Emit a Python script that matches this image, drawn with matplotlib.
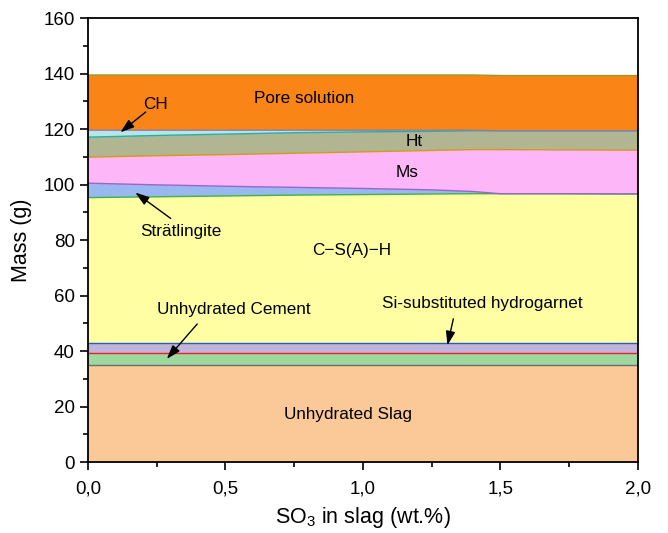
import matplotlib
matplotlib.use("Agg")
import matplotlib.pyplot as plt
import numpy as np
from matplotlib.ticker import MultipleLocator, FuncFormatter

plt.rcParams['font.family'] = ['Liberation Sans', 'DejaVu Sans']
plt.rcParams['mathtext.fontset'] = 'custom'
plt.rcParams['mathtext.rm'] = 'Liberation Sans'

# SO3 content in slag (wt.%)
so3 = [0, 0.25, 0.5, 0.75, 1.0, 1.25, 1.4, 1.5, 1.75, 2.0]

# masses of phases (g) (layer thicknesses)
slag        = [34.8] * 10
cement      = [4.6] * 10
hydrogarnet = [3.5] * 10
csh         = [52.4, 52.7, 53.0, 53.3, 53.5, 53.7, 53.8, 53.8, 53.8, 53.7]
stratlingite= [5.2, 4.3, 3.5, 2.8, 2.2, 1.5, 0.8, 0.0, 0.0, 0.0]
ms          = [9.4, 10.5, 11.4, 12.3, 13.2, 14.2, 15.1, 15.9, 15.8, 15.8]
ht          = [7.2, 7.3, 7.4, 7.4, 7.2, 6.9, 6.8, 6.8, 6.9, 7.0]
ch          = [2.5, 1.9, 1.4, 0.9, 0.6, 0.4, 0.2, 0.0, 0.0, 0.0]
pore        = [19.9, 19.9, 19.9, 19.9, 19.9, 19.9, 19.9, 19.9, 19.9, 19.9]

layers = [slag, cement, hydrogarnet, csh, stratlingite, ms, ht, ch, pore]
fills = ['#FBC898', '#9FD89F', '#C3B3DB', '#FFFEA3', '#99B8F0',
         '#FDB6F7', '#B2B591', '#B7E6EA', '#FB8417']
edges = ['#6E6E6E', '#E8212B', '#1F5FC4', '#3CB44B', '#9966CC',
         '#D49A1A', '#20B2AA', '#8C7FA8', '#9A9A20']

fig = plt.figure(figsize=(6.68, 5.33), dpi=100)
ax = fig.add_axes([0.1317, 0.1332, 0.8233, 0.8328])

ax.stackplot(so3, *layers, colors=fills, linewidth=0)
cum = np.cumsum(np.array(layers), axis=0)
for top, ec in zip(cum, edges):
    ax.plot(so3, top, color=ec, lw=1.0)

ax.set_xlim(0, 2.0)
ax.set_ylim(0, 160)
ax.xaxis.set_major_locator(MultipleLocator(0.5))
ax.xaxis.set_minor_locator(MultipleLocator(0.25))
ax.yaxis.set_major_locator(MultipleLocator(20))
ax.yaxis.set_minor_locator(MultipleLocator(10))
ax.xaxis.set_major_formatter(FuncFormatter(lambda v, p: f"{v:.1f}".replace('.', ',')))
ax.tick_params(which='both', direction='out', top=False, right=False, labelsize=13.5, width=1.2)
ax.tick_params(which='major', length=6)
ax.tick_params(which='minor', length=3.5)
ax.tick_params(axis='x', which='major', pad=7)
for s in ax.spines.values():
    s.set_linewidth(1.3)

ax.set_xlabel('SO$_3$ in slag (wt.%)', fontsize=15.5, labelpad=6)
ax.set_ylabel('Mass (g)', fontsize=15.5, labelpad=8)

fs = 12.3
ax.text(0.785, 131.2, 'Pore solution', fontsize=fs, ha='center', va='center')
ax.text(0.245, 129.0, 'CH', fontsize=fs, ha='center', va='center')
ax.text(1.185, 115.7, 'Ht', fontsize=fs, ha='center', va='center')
ax.text(1.16, 104.5, 'Ms', fontsize=fs, ha='center', va='center')
ax.text(0.338, 83.2, 'Strätlingite', fontsize=fs, ha='center', va='center')
ax.text(0.96, 76.4, 'C\u2212S(A)\u2212H', fontsize=fs, ha='center', va='center')
ax.text(0.53, 55.1, 'Unhydrated Cement', fontsize=fs, ha='center', va='center')
ax.text(1.433, 57.3, 'Si-substituted hydrogarnet', fontsize=fs, ha='center', va='center')
ax.text(0.945, 17.3, 'Unhydrated Slag', fontsize=fs, ha='center', va='center')

arrow = dict(arrowstyle='-|>,head_length=0.6,head_width=0.2', color='black', lw=1.0, mutation_scale=14)
ax.annotate('', xy=(0.11, 118.2), xytext=(0.218, 126.8), arrowprops=arrow)
ax.annotate('', xy=(0.164, 97.7), xytext=(0.309, 87.2), arrowprops=arrow)
ax.annotate('', xy=(0.28, 36.4), xytext=(0.404, 50.5), arrowprops=arrow)
ax.annotate('', xy=(1.305, 41.1), xytext=(1.331, 52.6), arrowprops=arrow)

fig.savefig('out.png', dpi=100)
